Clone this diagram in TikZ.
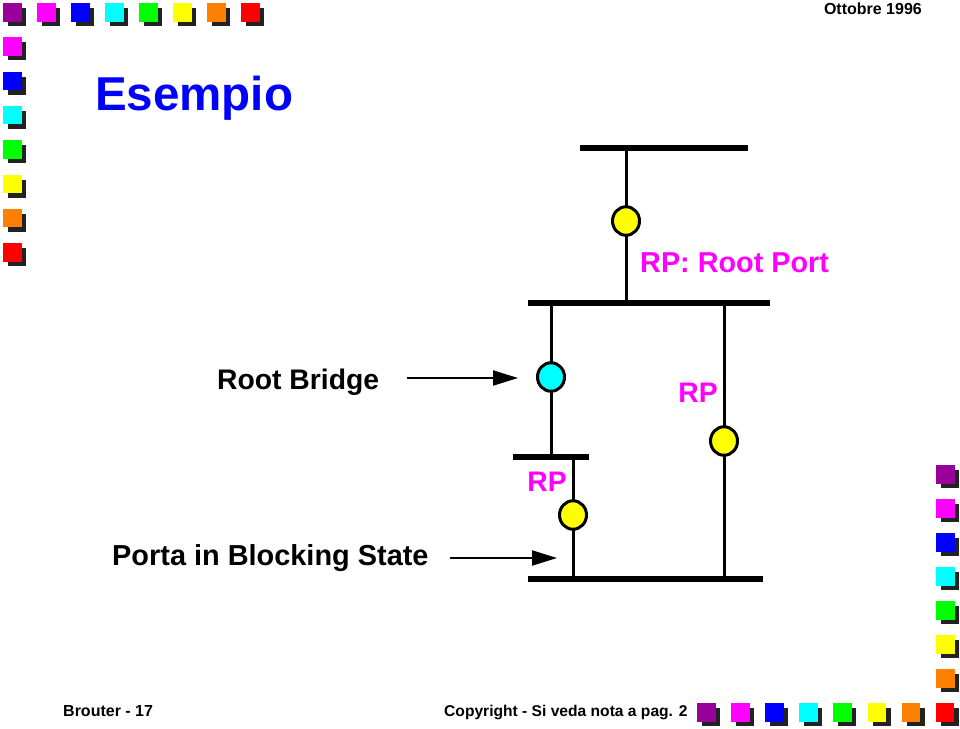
\documentclass[tikz,border=0pt]{standalone}
\usepackage{fontspec}
\setmainfont{Liberation Sans}
\usetikzlibrary{arrows.meta,shapes.geometric}
\definecolor{cpurple}{HTML}{990099}
\definecolor{cmag}{HTML}{FF00FF}
\definecolor{cblue}{HTML}{0000FF}
\definecolor{ccyan}{HTML}{00FFFF}
\definecolor{cgreen}{HTML}{00FF00}
\definecolor{cyellow}{HTML}{FFFF00}
\definecolor{corange}{HTML}{FF8000}
\definecolor{cred}{HTML}{FF0000}
\definecolor{cshadow}{HTML}{222222}
\newcommand{\decosq}[3]{%
  \fill[cshadow] (#1+5,#2+5) rectangle ++(18,18);
  \fill[#3] (#1,#2) rectangle ++(18.5,18.5);}
\begin{document}
\begin{tikzpicture}[x=1pt,y=-1pt,
  bus/.style={line width=6pt},
  wire/.style={line width=3pt},
  port/.style={ellipse,draw,line width=3pt,minimum width=27pt,minimum height=28.5pt,inner sep=0pt},
  lbl/.style={font=\bfseries\fontsize{28.3}{30}\selectfont,inner sep=0pt,anchor=base west},
  rplbl/.style={lbl,text=cmag,anchor=base},
  small/.style={font=\bfseries\fontsize{16}{18}\selectfont,inner sep=0pt,anchor=base west},
  arr/.style={line width=2pt,-{Triangle[length=25pt,width=15pt]}}]
\useasboundingbox (0,0) rectangle (960,728);
\fill[white] (0,0) rectangle (960,728);
% decorative squares
\foreach \c [count=\i from 0] in {cpurple,cmag,cblue,ccyan,cgreen,cyellow,corange,cred}
  {\decosq{3+34*\i}{3}{\c}}
\foreach \c [count=\i from 1] in {cmag,cblue,ccyan,cgreen,cyellow,corange,cred}
  {\decosq{3}{3+34.3*\i}{\c}}
\foreach \c [count=\i from 0] in {cpurple,cmag,cblue,ccyan,cgreen,cyellow,corange}
  {\decosq{936}{465+34*\i}{\c}}
\foreach \c [count=\i from 0] in {cpurple,cmag,cblue,ccyan,cgreen,cyellow,corange,cred}
  {\decosq{697+34.1*\i}{703}{\c}}
% texts
\node[small,anchor=base east] (date) at (922,14) {Ottobre 1996};
\node[font=\bfseries\fontsize{47.5}{50}\selectfont,text=cblue,inner sep=0pt,anchor=base west] (title) at (95,110) {Esempio};
\node[small] (foot1) at (63,716) {Brouter - 17};
\node[small,font=\bfseries\fontsize{15.6}{18}\selectfont] (foot2) at (444,716) {Copyright - Si veda nota a pag. 2};
\node[lbl] (rb) at (217,389) {Root Bridge};
\node[lbl,font=\bfseries\fontsize{28.9}{30}\selectfont] (pb) at (112,565) {Porta in Blocking State};
\node[lbl,text=cmag,font=\bfseries\fontsize{28.8}{30}\selectfont] (legend) at (640,272) {RP: Root Port};
\node[rplbl] (rp1) at (698,402) {RP};
\node[rplbl] (rp2) at (547,491) {RP};
% buses
\coordinate (b1l) at (580,148); \coordinate (b1r) at (748,148);
\coordinate (b2l) at (528,303); \coordinate (b2r) at (770,303);
\coordinate (b3l) at (513,457); \coordinate (b3r) at (589,457);
\coordinate (b4l) at (528,579); \coordinate (b4r) at (763,579);
\draw[bus] (b1l) -- (b1r);
\draw[bus] (b2l) -- (b2r);
\draw[bus] (b3l) -- (b3r);
\draw[bus] (b4l) -- (b4r);
% wires
\coordinate (t1) at (626,148); \coordinate (t2) at (626,303);
\coordinate (l1) at (551,303); \coordinate (l2) at (551,457);
\coordinate (m1) at (573,457); \coordinate (m2) at (573,579);
\coordinate (r1) at (724,303); \coordinate (r2) at (724,579);
\draw[wire] (t1) -- (t2);
\draw[wire] (l1) -- (l2);
\draw[wire] (m1) -- (m2);
\draw[wire] (r1) -- (r2);
% ports
\node[port,fill=cyellow] (p1) at (626,221) {};
\node[port,fill=ccyan] (p2) at (551,377) {};
\node[port,fill=cyellow] (p3) at (573,515) {};
\node[port,fill=cyellow] (p4) at (724,441) {};
% arrows
\coordinate (a1) at (407,378);
\coordinate (a1e) at (518,378);
\coordinate (a2) at (450,558);
\coordinate (a2e) at (557,558);
\draw[arr] (a1) -- (a1e);
\draw[arr] (a2) -- (a2e);
\end{tikzpicture}
\end{document}
